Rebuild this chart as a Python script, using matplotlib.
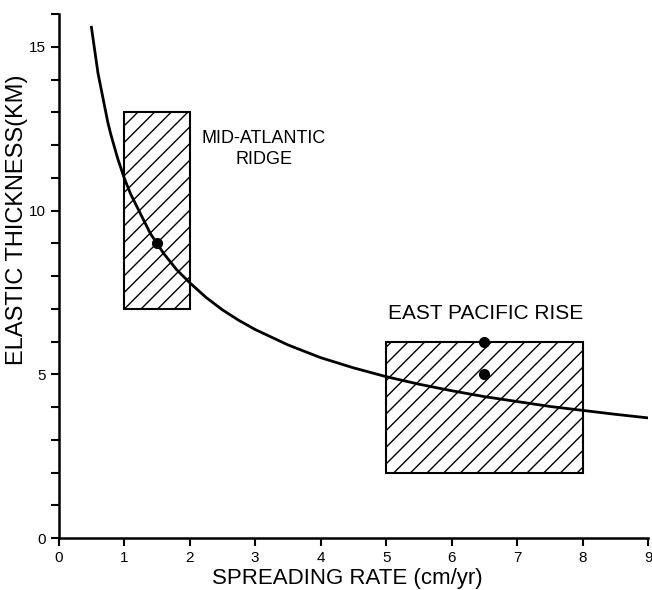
import matplotlib
matplotlib.use('Agg')
import matplotlib.pyplot as plt
from matplotlib.patches import Rectangle

# curve values
rate = [0.5, 0.55, 0.6, 0.65, 0.7, 0.75, 0.8, 0.85, 0.9, 0.95, 1.0, 1.1, 1.2, 1.3, 1.4, 1.5,
        1.6, 1.7, 1.8, 1.9, 2.0, 2.25, 2.5, 2.75, 3.0, 3.5, 4.0, 4.5, 5.0, 5.5, 6.0, 6.5,
        7.0, 7.5, 8.0, 8.5, 9.0]
thick = [15.6, 14.9, 14.2, 13.7, 13.2, 12.7, 12.3, 11.95, 11.6, 11.3, 11.0, 10.5, 10.1, 9.7, 9.3, 9.0,
         8.7, 8.45, 8.2, 8.0, 7.8, 7.35, 6.97, 6.65, 6.37, 5.9, 5.51, 5.2, 4.93, 4.7, 4.5, 4.32,
         4.17, 4.02, 3.9, 3.78, 3.67]

# boxes: (x0, x1, y0, y1)
mar_box = [1, 2, 7, 13]
epr_box = [5, 8, 2, 6]
pts_x = [1.5, 6.5, 6.5]
pts_y = [9, 6, 5]

plt.rcParams['font.family'] = ['Liberation Sans', 'DejaVu Sans']
plt.rcParams['hatch.linewidth'] = 1.0
fig = plt.figure(figsize=(6.52, 5.90), dpi=100)
ax = fig.add_axes([0.09, 0.088, 0.904, 0.888])

for b in (mar_box, epr_box):
    ax.add_patch(Rectangle((b[0], b[2]), b[1] - b[0], b[3] - b[2], facecolor='white',
                           edgecolor='black', hatch='//', linewidth=1.5, zorder=1))

ax.plot(rate, thick, color='black', linewidth=2, zorder=3)
ax.plot(pts_x, pts_y, 'o', color='black', markersize=7, zorder=4)

ax.text(3.13, 12.2, 'MID-ATLANTIC', fontsize=13, ha='center', va='center')
ax.text(3.13, 11.55, 'RIDGE', fontsize=13, ha='center', va='center')
ax.text(6.52, 6.85, 'EAST PACIFIC RISE', fontsize=15, ha='center', va='center')

ax.set_xlim(0, 9)
ax.set_ylim(0, 16)
ax.set_xticks(range(0, 10))
ax.set_yticks([0, 5, 10, 15])
ax.set_yticks(range(0, 17), minor=True)
ax.tick_params(axis='both', labelsize=11, width=1.5, length=6)
ax.tick_params(axis='y', which='minor', width=1.5, length=6)
ax.spines['top'].set_visible(False)
ax.spines['right'].set_visible(False)
ax.spines['left'].set_linewidth(1.8)
ax.spines['bottom'].set_linewidth(1.8)
ax.set_xlabel('SPREADING RATE (cm/yr)', fontsize=16)
ax.set_ylabel('ELASTIC THICKNESS(KM)', fontsize=17)
ax.yaxis.set_label_coords(-0.052, 0.607)
ax.xaxis.set_label_coords(0.49, -0.058)

plt.savefig('out.png', dpi=100)
